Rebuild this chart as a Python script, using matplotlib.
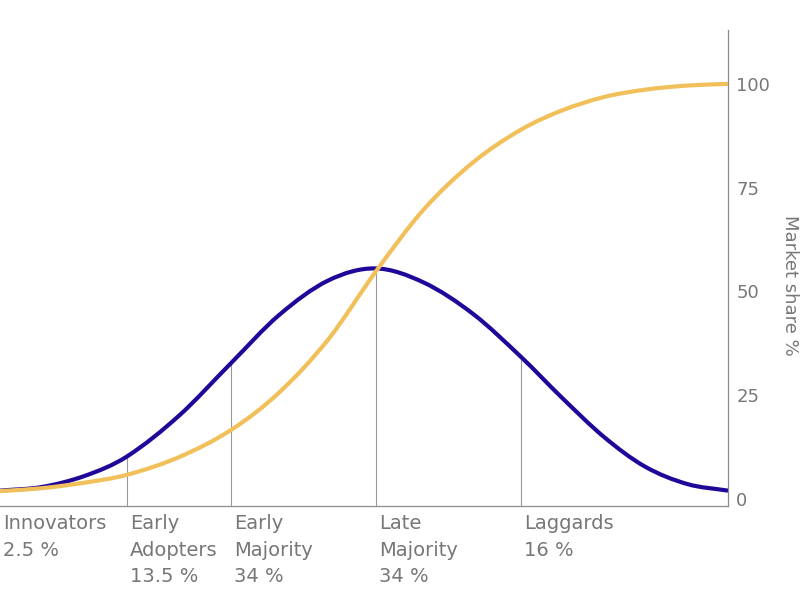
import matplotlib
matplotlib.use("Agg")
import matplotlib.pyplot as plt
from matplotlib.path import Path
from matplotlib.patches import PathPatch
import numpy as np

# x positions on a 0-100 scale across the plot
x_vals = [0, 5.8, 11.7, 17.4, 24.6, 31.7, 38.3, 45.1, 51.6,
          58.2, 65.0, 71.6, 77.2, 83.0, 88.6, 94.4, 100]
# adoption (bell curve)
adoption = [1.9, 2.8, 5.5, 10.1, 20.0, 32.6, 44.2, 52.6, 55.5,
            52.1, 44.5, 34.1, 24.3, 14.8, 7.7, 3.5, 1.9]
# market share (cumulative)
market_share = [1.8, 2.5, 3.85, 5.7, 10.0, 16.5, 25.5, 38.4, 54.7,
                69.7, 81.1, 89.0, 93.6, 96.85, 98.6, 99.6, 100]

# category boundaries (index into x_vals) and labels
cat_idx = [0, 3, 5, 8, 11]
cat_labels = ["Innovators\n2.5 %", "Early\nAdopters\n13.5 %", "Early\nMajority\n34 %",
              "Late\nMajority\n34 %", "Laggards\n16 %"]

y_ticks = [0, 25, 50, 75, 100]

BLUE = "#20079a"
YELLOW = "#f1c05a"
GREY_TXT = "#777777"
GREY_LINE = "#999999"


def spline_path(xs, ys):
    # smooth curve through the points: cubic Hermite pieces as Beziers
    xs = np.asarray(xs, float)
    ys = np.asarray(ys, float)
    n = len(xs)
    m = np.empty(n)
    m[0] = (ys[1] - ys[0]) / (xs[1] - xs[0])
    m[-1] = (ys[-1] - ys[-2]) / (xs[-1] - xs[-2])
    m[1:-1] = (ys[2:] - ys[:-2]) / (xs[2:] - xs[:-2])
    verts = [(xs[0], ys[0])]
    codes = [Path.MOVETO]
    for i in range(n - 1):
        h = xs[i + 1] - xs[i]
        verts += [(xs[i] + h / 3, ys[i] + m[i] * h / 3),
                  (xs[i + 1] - h / 3, ys[i + 1] - m[i + 1] * h / 3),
                  (xs[i + 1], ys[i + 1])]
        codes += [Path.CURVE4] * 3
    return Path(verts, codes)


fig = plt.figure(figsize=(8, 6), dpi=100)
ax = fig.add_axes([0, 94 / 600, 728 / 800, 476 / 600])
ax.set_xlim(0, 100)
ax.set_ylim(-1.8, 113)

# vertical separators from the axis up to the bell curve
for i in cat_idx[1:]:
    ax.vlines(x_vals[i], -1.8, adoption[i], color=GREY_LINE, lw=0.8, zorder=1)

ax.add_patch(PathPatch(spline_path(x_vals, adoption), fill=False,
                       edgecolor=BLUE, lw=3, capstyle="butt", zorder=3))
ax.add_patch(PathPatch(spline_path(x_vals, market_share), fill=False,
                       edgecolor=YELLOW, lw=3, capstyle="butt", zorder=4))

for i, lab in zip(cat_idx, cat_labels):
    ax.annotate(lab, xy=(x_vals[i], 0), xycoords=("data", "axes fraction"),
                xytext=(3, -8), textcoords="offset pixels", ha="left", va="top",
                fontsize=14, color=GREY_TXT, linespacing=1.5)

for s in ["left", "top"]:
    ax.spines[s].set_visible(False)
for s in ["right", "bottom"]:
    ax.spines[s].set_color("#8c8c8c")
    ax.spines[s].set_linewidth(0.9)

ax.set_xticks([])
ax.yaxis.tick_right()
ax.set_yticks(y_ticks)
ax.tick_params(axis="y", length=0, pad=6, labelsize=13, labelcolor=GREY_TXT)

fig.text(790 / 800, 1 - 285 / 600, "Market share %", rotation=270,
         ha="center", va="center", fontsize=13, color=GREY_TXT)

fig.savefig("out.png", dpi=100)
